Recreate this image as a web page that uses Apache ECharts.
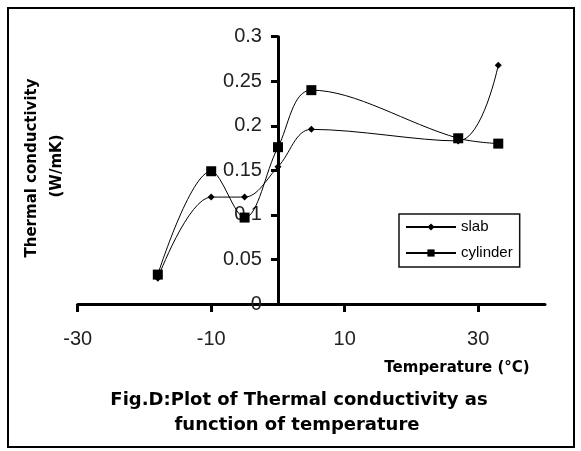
<!DOCTYPE html>
<html>
<head>
<meta charset="utf-8">
<script src="https://cdn.jsdelivr.net/npm/echarts@6/dist/echarts.min.js"></script>
<style>html,body{margin:0;padding:0;background:#fff}#c{width:581px;height:451px}</style>
</head>
<body>
<div id="c"></div>
<script>
const temperatures = [-18, -10, -5, 0, 5, 27, 33];
const slab = [0.029, 0.12, 0.12, 0.154, 0.196, 0.183, 0.268];
const cylinder = [0.033, 0.149, 0.097, 0.176, 0.240, 0.186, 0.180];
const xTicks = [-30, -10, 10, 30];
const seriesNames = ['slab', 'cylinder'];

const chart = echarts.init(document.getElementById('c'));
const pairs = (xs, ys) => xs.map((x, i) => [x, ys[i]]);
const boldFont = '"DejaVu Sans", sans-serif';
const labelFont = '"Liberation Sans", Arial, sans-serif';

const X_MIN = -30, X_MAX = 40, Y_MIN = 0, Y_MAX = 0.3;
const G_LEFT = 77.7, G_RIGHT = 36, G_TOP = 36.7, G_BOTTOM = 147, W = 581;
const plotW = W - G_LEFT - G_RIGHT;
const zeroX = G_LEFT + (0 - X_MIN) / (X_MAX - X_MIN) * plotW;

chart.setOption({
  animation: false,
  backgroundColor: '#fff',
  grid: [
    { left: G_LEFT, right: G_RIGHT, top: G_TOP, bottom: G_BOTTOM, containLabel: false },
    { left: zeroX, right: G_RIGHT, top: G_TOP, bottom: G_BOTTOM, containLabel: false }
  ],
  xAxis: [
    {
      gridIndex: 0, type: 'value', min: X_MIN, max: X_MAX, interval: 20,
      axisLine: { onZero: false, lineStyle: { color: '#000', width: 3 } },
      axisTick: { show: true, length: 8, lineStyle: { color: '#000', width: 3 }, customValues: xTicks },
      axisLabel: { customValues: xTicks, margin: 25, color: '#222', fontSize: 20, fontFamily: labelFont },
      splitLine: { show: false }
    },
    {
      gridIndex: 1, type: 'value', min: 0, max: X_MAX, show: false
    }
  ],
  yAxis: [
    {
      gridIndex: 0, type: 'value', min: Y_MIN, max: Y_MAX, interval: 0.05, show: false
    },
    {
      gridIndex: 1, type: 'value', min: Y_MIN, max: Y_MAX, interval: 0.05, position: 'left',
      axisLine: { show: true, onZero: false, lineStyle: { color: '#000', width: 3 } },
      axisTick: { show: true, length: 7, lineStyle: { color: '#000', width: 3 } },
      axisLabel: { margin: 16, color: '#222', fontSize: 20, fontFamily: labelFont },
      splitLine: { show: false }
    }
  ],
  legend: {
    orient: 'vertical', left: 399, top: 214,
    data: seriesNames,
    itemWidth: 50, itemHeight: 9, itemGap: 10,
    padding: [5, 7, 6, 6],
    borderColor: '#111', borderWidth: 1.5,
    textStyle: { color: '#000', fontSize: 15, lineHeight: 16, fontFamily: labelFont }
  },
  series: [
    {
      name: seriesNames[0], type: 'line', smooth: 0.35, xAxisIndex: 0, yAxisIndex: 0,
      data: pairs(temperatures, slab),
      symbol: 'diamond', symbolSize: 7,
      lineStyle: { color: '#000', width: 1 },
      itemStyle: { color: '#000' }
    },
    {
      name: seriesNames[1], type: 'line', smooth: 0.35, xAxisIndex: 0, yAxisIndex: 0,
      data: pairs(temperatures, cylinder),
      symbol: 'rect', symbolSize: 10,
      lineStyle: { color: '#000', width: 1 },
      itemStyle: { color: '#000' }
    }
  ],
  graphic: [
    { type: 'rect', shape: { x: 8, y: 8, width: 566, height: 439 }, style: { fill: 'none', stroke: '#000', lineWidth: 2 }, z: 100 },
    { type: 'text', x: 32, y: 168, rotation: Math.PI / 2, style: { text: 'Thermal conductivity', font: 'bold 15px ' + boldFont, fill: '#000', align: 'center', verticalAlign: 'middle' } },
    { type: 'text', x: 57, y: 166, rotation: Math.PI / 2, style: { text: '(W/mK)', font: 'bold 15px ' + boldFont, fill: '#000', align: 'center', verticalAlign: 'middle' } },
    { type: 'text', x: 457, y: 368, style: { text: 'Temperature (°C)', font: 'bold 15px ' + boldFont, fill: '#000', align: 'center', verticalAlign: 'middle' } },
    { type: 'text', x: 299, y: 400, style: { text: 'Fig.D:Plot of Thermal conductivity as', font: 'bold 18px ' + boldFont, fill: '#000', align: 'center', verticalAlign: 'middle' } },
    { type: 'text', x: 297, y: 425, style: { text: 'function of temperature', font: 'bold 18px ' + boldFont, fill: '#000', align: 'center', verticalAlign: 'middle' } }
  ]
});
</script>
</body>
</html>
